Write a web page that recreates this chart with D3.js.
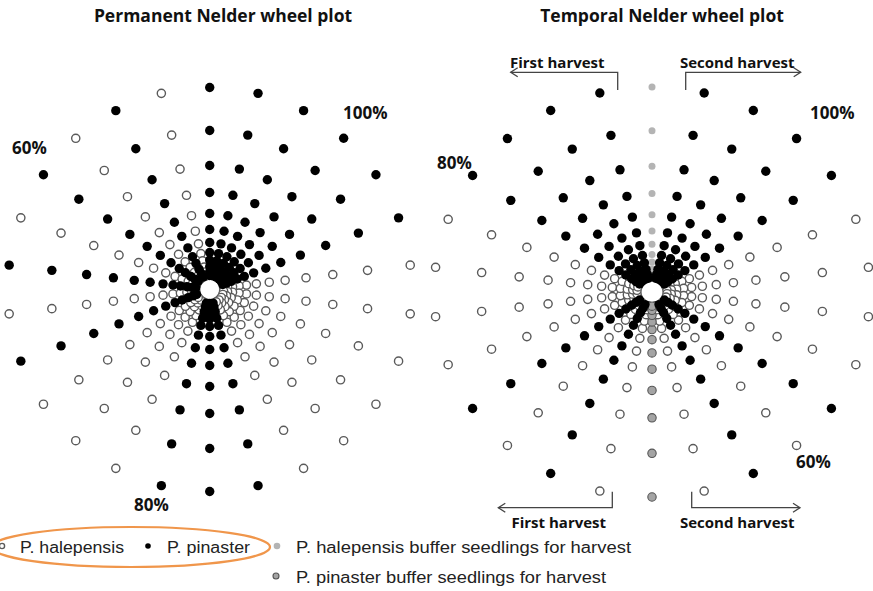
<!DOCTYPE html>
<html>
<head>
<meta charset="utf-8">
<script src="https://cdn.jsdelivr.net/npm/d3@7"></script>
<style>
  body { margin: 0; background: #fff; }
  svg { display: block; }
</style>
</head>
<body>
<div id="chart"></div>
<script>
// --- data ---
const spokeCount = 26;
// distance of each ring from the wheel centre (outer ring first)
const ringDist = [202, 159, 124, 97, 76, 60, 47, 37, 29.5, 23, 18, 14];
// species per spoke, clockwise from 12 o'clock
const permanentSpokes = ['pin','pin','pin','pin','pin','pin','hal','hal','hal','hal','hal','hal','pin',
  'pin','pin','hal','hal','hal','pin','hal','pin','hal','pin','hal','pin','hal'];
const temporalSpokes = ['halBuf','pin','pin','pin','pin','hal','hal','hal','hal','pin','hal','pin','hal',
  'pinBuf','hal','pin','hal','pin','hal','hal','hal','hal','pin','pin','pin','pin'];
const wheelTitles = ['Permanent Nelder wheel plot', 'Temporal Nelder wheel plot'];
const permanentShares = ['100%', '60%', '80%'];
const temporalShares = ['100%', '80%', '60%'];
const harvestLabels = ['First harvest', 'Second harvest'];
const legendKeys = ['hal', 'pin', 'halBuf', 'pinBuf'];
const legendLabels = ['P. halepensis', 'P. pinaster',
  'P. halepensis buffer seedlings for harvest', 'P. pinaster buffer seedlings for harvest'];

const width = 873;
const height = 591;

const style = {
  pin:    { fill: '#000',    stroke: 'none', sw: 0,   r: 4.7 },
  hal:    { fill: '#fff',    stroke: '#5a5a5a', sw: 1.4, r: 4.1 },
  halBuf: { fill: '#b4b4b4', stroke: 'none', sw: 0,   r: 3.5 },
  pinBuf: { fill: '#a4a4a4', stroke: '#555', sw: 1.1, r: 4.2 }
};
const order = { hal: 0, halBuf: 1, pinBuf: 2, pin: 3 };

const svg = d3.select('#chart')
  .append('svg')
  .attr('width', width)
  .attr('height', height)
  .attr('viewBox', [0, 0, width, height]);

const angle = d3.scaleLinear()
  .domain([0, spokeCount])
  .range([0, 2 * Math.PI]);

const wheels = [
  { spokes: permanentSpokes, cx: 209.7, cy: 289.5, rx: 202, ry: 202 },
  { spokes: temporalSpokes,  cx: 652,   cy: 292,   rx: 218, ry: 205 }
];

wheels.forEach(w => {
  const rX = d3.scaleLinear().domain([0, d3.max(ringDist)]).range([0, w.rx]);
  const rY = d3.scaleLinear().domain([0, d3.max(ringDist)]).range([0, w.ry]);
  const pts = [];
  w.spokes.forEach((sp, k) => {
    ringDist.forEach(d => pts.push({ k, d, sp }));
  });
  pts.sort((a, b) => order[a.sp] - order[b.sp]);

  svg.append('g')
    .selectAll('circle')
    .data(pts)
    .join('circle')
      .attr('cx', p => w.cx + rX(p.d) * Math.sin(angle(p.k)))
      .attr('cy', p => w.cy - rY(p.d) * Math.cos(angle(p.k)))
      .attr('r', p => style[p.sp].r)
      .attr('fill', p => style[p.sp].fill)
      .attr('stroke', p => style[p.sp].stroke)
      .attr('stroke-width', p => style[p.sp].sw);
});

// titles
const boldFont = '"Open Sans", sans-serif';
svg.selectAll('text.title')
  .data(wheelTitles)
  .join('text')
    .attr('class', 'title')
    .attr('x', (d, i) => i === 0 ? 223 : 662)
    .attr('y', 21.5)
    .attr('text-anchor', 'middle')
    .attr('font-family', boldFont)
    .attr('font-weight', 700)
    .attr('font-size', '17.5px')
    .attr('fill', '#111')
    .text(d => d);

// share labels
const sharePos = [
  [343, 119], [12, 154], [134, 510.5],
  [810, 119], [437, 169], [796, 467.5]
];
svg.selectAll('text.share')
  .data(permanentShares.concat(temporalShares))
  .join('text')
    .attr('class', 'share')
    .attr('x', (d, i) => sharePos[i][0])
    .attr('y', (d, i) => sharePos[i][1])
    .attr('font-family', boldFont)
    .attr('font-weight', 700)
    .attr('font-size', '17px')
    .attr('fill', '#111')
    .text(d => d);

// harvest brackets
const brackets = [
  { x0: 617.7, x1: 510.7, yTop: 72.3, yEnd: 90, label: harvestLabels[0], ty: 68.3, tx: 510 },
  { x0: 685.7, x1: 800.7, yTop: 72.3, yEnd: 90, label: harvestLabels[1], ty: 68.3, tx: 680 },
  { x0: 612.3, x1: 498.3, yTop: 507.7, yEnd: 491.7, label: harvestLabels[0], ty: 527.7, tx: 511.5 },
  { x0: 691.7, x1: 800,   yTop: 507.7, yEnd: 491.7, label: harvestLabels[1], ty: 527.7, tx: 680 }
];
const bg = svg.append('g')
  .attr('fill', 'none')
  .attr('stroke', '#444')
  .attr('stroke-width', 1.3);
brackets.forEach(b => {
  const dir = b.x1 < b.x0 ? 1 : -1;
  bg.append('path')
    .attr('d', `M${b.x0},${b.yEnd}V${b.yTop}H${b.x1}`);
  bg.append('path')
    .attr('d', `M${b.x1 + dir * 7},${b.yTop - 4.5}L${b.x1},${b.yTop}L${b.x1 + dir * 7},${b.yTop + 4.5}`);
  svg.append('text')
    .attr('x', b.tx)
    .attr('y', b.ty)
    .attr('font-family', boldFont)
    .attr('font-weight', 700)
    .attr('font-size', '15px')
    .attr('fill', '#111')
    .text(b.label);
});

// legend
svg.append('ellipse')
  .attr('cx', 131)
  .attr('cy', 547)
  .attr('rx', 139)
  .attr('ry', 20)
  .attr('fill', 'none')
  .attr('stroke', '#f0964b')
  .attr('stroke-width', 2.2);

const legendPos = [
  { x: 2,   y: 546, tx: 20,  ty: 552.5, len: 104, r: 2.6 },
  { x: 148, y: 546, tx: 167, ty: 552.5, len: 83,  r: 2.8 },
  { x: 277, y: 546, tx: 296, ty: 552.5, len: 335, r: 3.3 },
  { x: 276, y: 576, tx: 296, ty: 583.3, len: 310, r: 3.0 }
];
const lg = svg.append('g');
legendKeys.forEach((key, i) => {
  const p = legendPos[i];
  lg.append('circle')
    .attr('cx', p.x)
    .attr('cy', p.y)
    .attr('r', p.r)
    .attr('fill', style[key].fill)
    .attr('stroke', style[key].stroke)
    .attr('stroke-width', style[key].sw);
  lg.append('text')
    .attr('x', p.tx)
    .attr('y', p.ty)
    .attr('font-family', '"Liberation Sans", Arial, sans-serif')
    .attr('font-size', '16px')
    .attr('fill', '#222')
    .attr('textLength', p.len)
    .attr('lengthAdjust', 'spacingAndGlyphs')
    .text(legendLabels[i]);
});
</script>
</body>
</html>
